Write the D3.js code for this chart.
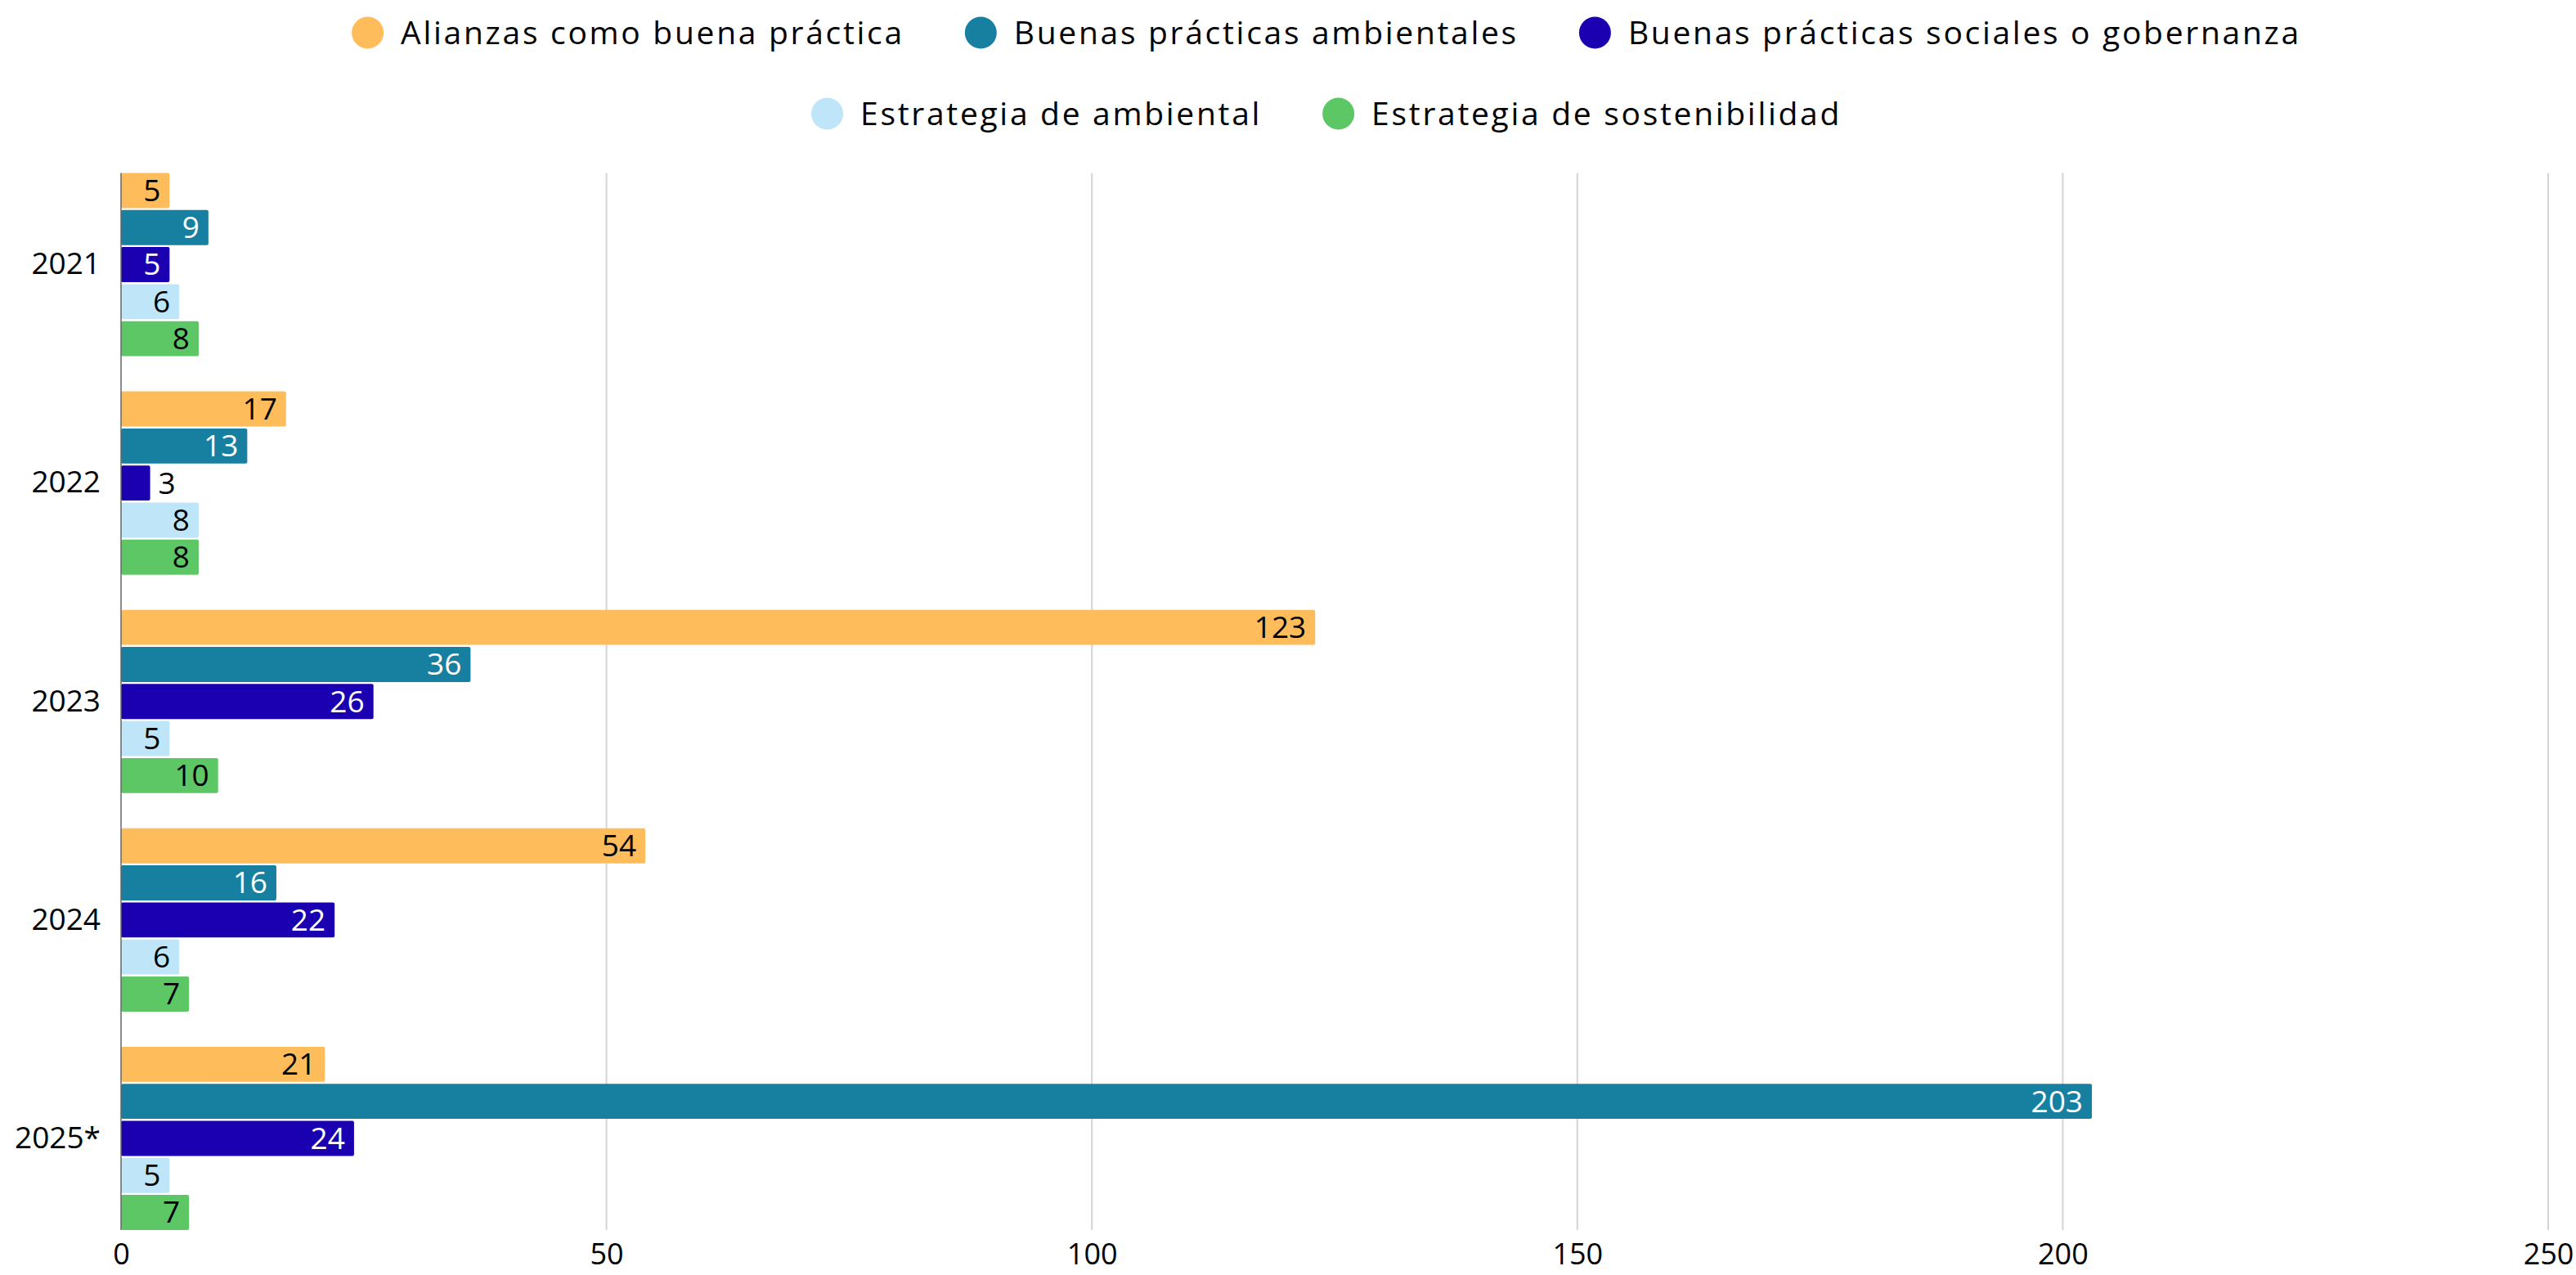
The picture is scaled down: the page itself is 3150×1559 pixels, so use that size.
<!DOCTYPE html>
<html><head><meta charset="utf-8">
<script src="https://cdn.jsdelivr.net/npm/d3@7"></script>
<style>html,body{margin:0;padding:0;background:#fff;}svg{display:block;font-family:"Open Sans",sans-serif;}</style>
</head><body>
<svg id="chart" width="3150" height="1559"></svg>
<script>
const years = ["2021","2022","2023","2024","2025*"];
const seriesNames = ["Alianzas como buena práctica","Buenas prácticas ambientales","Buenas prácticas sociales o gobernanza","Estrategia de ambiental","Estrategia de sostenibilidad"];
const seriesColors = ["#FFBC5A","#1780A1","#1A00B0","#BEE6F8","#5EC765"];
const labelColors = ["#000","#fff","#fff","#000","#000"];
const alianzas = [5,17,123,54,21];
const ambientales = [9,13,36,16,203];
const sociales = [5,3,26,22,24];
const estrAmbiental = [6,8,5,6,5];
const estrSost = [8,8,10,7,7];
const seriesValues = [alianzas, ambientales, sociales, estrAmbiental, estrSost];
const xTicks = [0,50,100,150,200,250];

(function(){
const svg = d3.select("#chart");
const pLeft = 148, pRight = 3116, pTop = 211.5, pBottom = 1504;
const x = d3.scaleLinear().domain([0,250]).range([pLeft,pRight]);
const y0 = d3.scaleBand().domain(years).range([pTop,pBottom]).paddingInner(0.161).paddingOuter(0);
const y1 = d3.scaleBand().domain(d3.range(seriesNames.length)).range([0,y0.bandwidth()]).paddingInner(0.053).paddingOuter(0);

// gridlines
svg.append("g").selectAll("line").data(xTicks.filter(d=>d>0)).join("line")
  .attr("x1",d=>x(d)).attr("x2",d=>x(d)).attr("y1",pTop).attr("y2",pBottom)
  .attr("stroke","#d4d4d4").attr("stroke-width",2);

// bars
const groups = svg.append("g").selectAll("g").data(years).join("g")
  .attr("transform",d=>`translate(0,${y0(d)})`);
groups.each(function(yr, yi){
  const g = d3.select(this);
  seriesValues.forEach((vals, si)=>{
    const v = vals[yi];
    g.append("rect").attr("x",x(0)).attr("y",y1(si)).attr("width",x(v)-x(0)).attr("height",y1.bandwidth())
      .attr("fill",seriesColors[si]).attr("rx",2);
    const w = x(v)-x(0);
    const inside = w > 45;
    g.append("text").attr("x", inside ? x(v)-11 : x(v)+10).attr("y", y1(si)+y1.bandwidth()/2)
      .attr("dy","0.35em").attr("text-anchor", inside ? "end":"start")
      .attr("font-size",37).attr("fill", inside ? labelColors[si] : "#000").text(v);
  });
});

// y axis line
svg.append("line").attr("x1",pLeft).attr("x2",pLeft).attr("y1",pTop).attr("y2",pBottom).attr("stroke","#666").attr("stroke-width",1.5);

// y labels
const yAxis = d3.axisLeft(y0).tickSize(0).tickPadding(25);
const ya = svg.append("g").attr("transform",`translate(${pLeft},0)`).call(yAxis);
ya.select(".domain").remove();
ya.selectAll("text").attr("font-size",37).attr("fill","#000").attr("font-family","Open Sans");

// x axis labels
const xAxis = d3.axisBottom(x).tickValues(xTicks).tickSize(0).tickPadding(0);
const xa = svg.append("g").attr("transform",`translate(0,${1533})`).call(xAxis);
xa.select(".domain").remove();
xa.selectAll("text").attr("font-size",36).attr("fill","#000").attr("dy","0.35em").attr("font-family","Open Sans");

// legend
const rows = [[0,1,2],[3,4]];
const rowY = [40,139];
const legendCenter = 1622;
rows.forEach((row, ri)=>{
  const lg = svg.append("g");
  let cx = 0;
  row.forEach((si, k)=>{
    const it = lg.append("g").attr("transform",`translate(${cx},0)`);
    it.append("circle").attr("cx",19.5).attr("cy",rowY[ri]).attr("r",19.5).attr("fill",seriesColors[si]);
    const t = it.append("text").attr("x",60).attr("y",rowY[ri]).attr("dy","0.35em").attr("font-size",39)
      .attr("letter-spacing","2.7px").attr("fill","#000").text(seriesNames[si]);
    const tw = t.node().getComputedTextLength();
    cx += 60 + tw + 74;
  });
  const total = cx - 74;
  lg.attr("transform",`translate(${legendCenter - total/2},0)`);
});
})();
</script>
</body></html>
